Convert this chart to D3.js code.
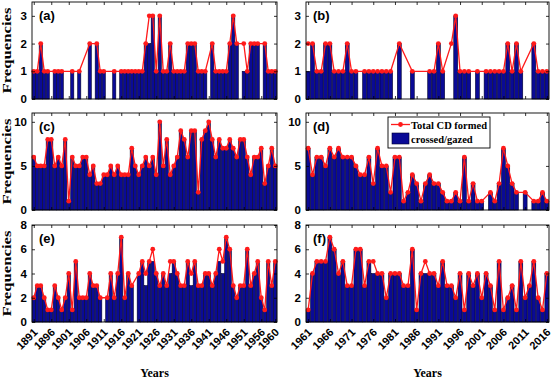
<!DOCTYPE html>
<html>
<head>
<meta charset="utf-8">
<script src="https://cdn.jsdelivr.net/npm/d3@7"></script>
<style>
body { margin: 0; background: #fff; }
svg { display: block; }
.tick text { font-family: 'Liberation Sans', Arial, sans-serif; font-weight: bold; font-size: 11.5px; fill: #000; }
.tick line { stroke: #000; stroke-width: 0.8; }
.label { font-family: 'Liberation Serif', 'Times New Roman', serif; font-weight: bold; fill: #000; }
</style>
</head>
<body>
<svg id="chart" width="552" height="380"></svg>
<script>
/* Years on each column of panels */
var yearsLeft = d3.range(1891, 1961)
var yearsRight = d3.range(1961, 2017)
var tickYearsLeft = [1891, 1896, 1901, 1906, 1911, 1916, 1921, 1926, 1931, 1936, 1941, 1946, 1951, 1956, 1960]
var tickYearsRight = [1961, 1966, 1971, 1976, 1981, 1986, 1991, 1996, 2001, 2006, 2011, 2016]

/* Total CD formed (line) and crossed/gazed (bars), one value per year */
var totalA = [1,1,2,1,1,0,1,1,1,0, 0,1,0,1,0,0,2,0,2,1, 1,0,0,1,0,1,1,1,1,1, 1,1,2,3,3,1,3,1,1,2, 1,1,1,1,2,2,2,1,1,1, 0,2,1,1,1,1,2,3,2,0, 2,1,2,2,2,0,2,1,1,1]
var crossedA = [1,1,2,1,1,0,1,1,1,0, 0,1,0,1,0,0,2,0,2,1, 1,0,0,1,0,1,1,1,1,1, 1,1,2,2,3,1,3,1,1,2, 1,1,1,1,2,2,2,1,1,1, 0,2,1,1,1,1,2,3,2,0, 1,1,2,2,2,0,2,1,1,1]

var totalB = [2,2,1,1,2,2,1,1,1,2, 1,1,0,1,1,1,1,1,1,1, 0,2,0,0,1,0,0,0,1,1, 2,1,0,2,3,1,1,1,0,1, 0,1,1,1,1,1,2,1,2,1, 0,0,2,1,1,1]
var crossedB = [1,2,1,1,2,2,1,1,1,2, 1,1,0,1,1,1,1,1,1,1, 0,2,0,0,1,0,0,0,1,1, 2,1,0,0,3,1,1,1,0,1, 0,1,1,1,1,1,2,1,2,1, 0,0,2,1,1,1]

var totalC = [6,5,5,5,8,8,5,6,5,8, 1,6,5,5,6,6,4,5,3,3, 4,4,5,4,5,4,4,4,7,5, 4,5,6,5,6,4,10,5,8,4, 5,6,9,8,6,9,9,2,8,9, 10,8,6,8,7,7,8,7,6,8, 8,6,4,6,6,7,3,5,7,5]
var crossedC = [6,5,5,5,8,8,5,6,5,8, 1,6,5,5,6,6,4,5,3,3, 4,4,5,4,5,4,4,4,7,5, 4,5,6,5,6,4,10,5,8,4, 5,6,9,8,6,9,9,2,8,9, 10,8,6,8,7,7,8,7,6,8, 8,6,4,6,6,7,3,5,7,5]

var totalD = [7,4,6,6,5,7,6,7,6,6, 6,5,4,4,6,3,7,5,5,2, 6,6,1,2,4,3,1,3,4,3, 3,2,1,1,2,1,6,1,3,1, 1,0,2,1,3,7,5,3,2,0, 2,0,1,1,2,1]
var crossedD = [7,4,6,6,5,7,6,7,6,6, 6,5,4,4,6,3,7,5,5,2, 6,6,1,2,4,3,1,3,4,3, 3,2,1,1,2,1,6,1,3,1, 1,0,2,1,3,7,5,3,2,0, 2,0,1,1,2,1]

var totalE = [2,3,3,2,1,1,3,2,1,2, 4,1,5,2,2,2,4,3,3,2, 0,2,4,2,4,7,2,4,3,0, 4,5,4,5,6,4,3,4,3,5, 5,4,3,3,5,4,5,3,3,4, 4,3,4,6,5,7,6,3,2,3, 3,6,3,4,5,2,1,5,3,5]
var crossedE = [2,3,3,2,1,1,3,2,1,2, 4,1,5,2,2,2,4,3,3,2, 0,2,4,2,4,7,2,4,3,0, 4,5,3,5,5,4,3,4,3,4, 5,4,3,3,5,3,5,3,3,4, 4,3,4,5,4,7,6,3,2,3, 3,6,3,4,5,2,1,5,3,5]

var totalF = [1,4,5,5,5,7,6,4,5,3, 3,6,6,3,5,5,4,4,2,4, 4,4,3,3,6,1,4,5,4,4, 3,5,3,3,2,4,1,4,3,4, 2,4,3,1,5,1,2,3,1,5, 2,3,5,2,1,4]
var crossedF = [1,4,5,5,5,7,6,4,5,3, 3,6,6,3,5,4,4,4,2,4, 4,4,3,3,6,1,4,4,4,4, 3,5,3,3,2,4,1,4,3,4, 2,4,3,1,5,1,2,3,1,5, 2,3,5,2,1,4]

var lineColor = '#ff1a1a'
var barColor = '#0a0a96'

var columns = [
	{left: 32, right: 277, years: yearsLeft, ticks: tickYearsLeft},
	{left: 306, right: 549, years: yearsRight, ticks: tickYearsRight}
]
var rows = [
	{top: 2, bottom: 99, ymax: 3.5, yticks: [0, 1, 2, 3]},
	{top: 113, bottom: 210, ymax: 11, yticks: [0, 5, 10]},
	{top: 225, bottom: 322, ymax: 8, yticks: [0, 2, 4, 6, 8]}
]
var panels = [
	{name: '(a)', row: 0, col: 0, total: totalA, crossed: crossedA},
	{name: '(b)', row: 0, col: 1, total: totalB, crossed: crossedB},
	{name: '(c)', row: 1, col: 0, total: totalC, crossed: crossedC},
	{name: '(d)', row: 1, col: 1, total: totalD, crossed: crossedD},
	{name: '(e)', row: 2, col: 0, total: totalE, crossed: crossedE},
	{name: '(f)', row: 2, col: 1, total: totalF, crossed: crossedF}
]

var svg = d3.select('#chart')
var intFormat = d3.format('d')

/**
 * Draws one panel: bars for crossed/gazed, red line with markers for the total,
 * and a boxed frame with inward ticks on all four sides.
 */
function drawPanel(p) {
	var col = columns[p.col], row = rows[p.row]
	var x = d3.scaleLinear()
		.domain([col.years[0] - 0.5, col.years[col.years.length - 1] + 0.5])
		.range([col.left, col.right])
	var y = d3.scaleLinear().domain([0, row.ymax]).range([row.bottom, row.top])
	var step = x(1) - x(0)
	var g = svg.append('g')

	var data = col.years.map(function(year, i) { return {year: year, total: p.total[i], crossed: p.crossed[i]} })

	g.selectAll('rect.bar').data(data.filter(function(d) { return d.crossed > 0 }))
		.enter().append('rect')
		.attr('class', 'bar')
		.attr('x', function(d) { return x(d.year) - step * 0.45 })
		.attr('width', step * 0.9)
		.attr('y', function(d) { return y(d.crossed) })
		.attr('height', function(d) { return y(0) - y(d.crossed) })
		.style('fill', barColor)
		.style('stroke', '#00002e')
		.style('stroke-width', 0.6)

	/* Years without any CD are left out of the line, so it jumps over them */
	var points = data.filter(function(d) { return d.total > 0 })
	var line = d3.line().x(function(d) { return x(d.year) }).y(function(d) { return y(d.total) })
	g.append('path').datum(points)
		.attr('d', line)
		.style('fill', 'none')
		.style('stroke', lineColor)
		.style('stroke-width', 1.3)
	g.selectAll('circle').data(points).enter().append('circle')
		.attr('cx', function(d) { return x(d.year) })
		.attr('cy', function(d) { return y(d.total) })
		.attr('r', 2.4)
		.style('fill', lineColor)

	/* Axes with inward ticks */
	var bottom = d3.axisBottom(x).tickValues(col.ticks).tickSize(-3).tickFormat(p.row < 2 ? '' : intFormat)
	var gb = g.append('g').attr('transform', 'translate(0,' + row.bottom + ')').call(bottom)
	if (p.row == 2) {
		gb.selectAll('text')
			.attr('y', 0).attr('dy', null)
			.attr('transform', 'translate(4,11) rotate(-45)')
			.style('text-anchor', 'end')
			.style('font-size', '11px')
	}
	g.append('g').attr('transform', 'translate(0,' + row.top + ')')
		.call(d3.axisTop(x).tickValues(col.ticks).tickSize(-3).tickFormat(''))
	g.append('g').attr('transform', 'translate(' + col.left + ',0)')
		.call(d3.axisLeft(y).tickValues(row.yticks).tickSize(-3).tickPadding(5).tickFormat(intFormat))
	g.append('g').attr('transform', 'translate(' + col.right + ',0)')
		.call(d3.axisRight(y).tickValues(row.yticks).tickSize(-3).tickFormat(''))
	g.selectAll('.domain').remove()

	g.append('rect')
		.attr('x', col.left).attr('y', row.top)
		.attr('width', col.right - col.left).attr('height', row.bottom - row.top)
		.style('fill', 'none').style('stroke', '#000').style('stroke-width', 0.9)

	g.append('text')
		.attr('x', col.left + 7).attr('y', row.top + 18)
		.style('font-family', "'Liberation Sans', Arial, sans-serif")
		.style('font-weight', 'bold').style('font-size', '13px')
		.text(p.name)

	if (p.col == 0) {
		g.append('text').attr('class', 'label')
			.attr('transform', 'translate(11,' + (row.top + row.bottom) / 2 + ') rotate(-90)')
			.attr('text-anchor', 'middle')
			.attr('textLength', 86).attr('lengthAdjust', 'spacingAndGlyphs')
			.style('font-size', '11.5px')
			.text('Frequencies')
	}
}

panels.forEach(drawPanel)

/* Shared x labels */
columns.forEach(function(col) {
	svg.append('text').attr('class', 'label')
		.attr('x', (col.left + col.right) / 2).attr('y', 377)
		.attr('text-anchor', 'middle')
		.style('font-size', '12px')
		.text('Years')
})

/* Legend inside panel (d) */
var legend = svg.append('g')
legend.append('rect')
	.attr('x', 388).attr('y', 117).attr('width', 102).attr('height', 31)
	.style('fill', '#fff').style('stroke', '#000').style('stroke-width', 0.9)
legend.append('line')
	.attr('x1', 391).attr('x2', 410).attr('y1', 124.5).attr('y2', 124.5)
	.style('stroke', lineColor).style('stroke-width', 1.3)
legend.append('circle').attr('cx', 400.5).attr('cy', 124.5).attr('r', 2.4).style('fill', lineColor)
legend.append('rect')
	.attr('x', 392).attr('y', 133).attr('width', 17).attr('height', 11)
	.style('fill', barColor).style('stroke', '#00002e').style('stroke-width', 0.6)
legend.append('text').attr('class', 'label')
	.attr('x', 411).attr('y', 128.5).style('font-size', '10.5px')
	.text('Total CD formed')
legend.append('text').attr('class', 'label')
	.attr('x', 411).attr('y', 143).style('font-size', '10.5px')
	.text('crossed/gazed')
</script>
</body>
</html>
